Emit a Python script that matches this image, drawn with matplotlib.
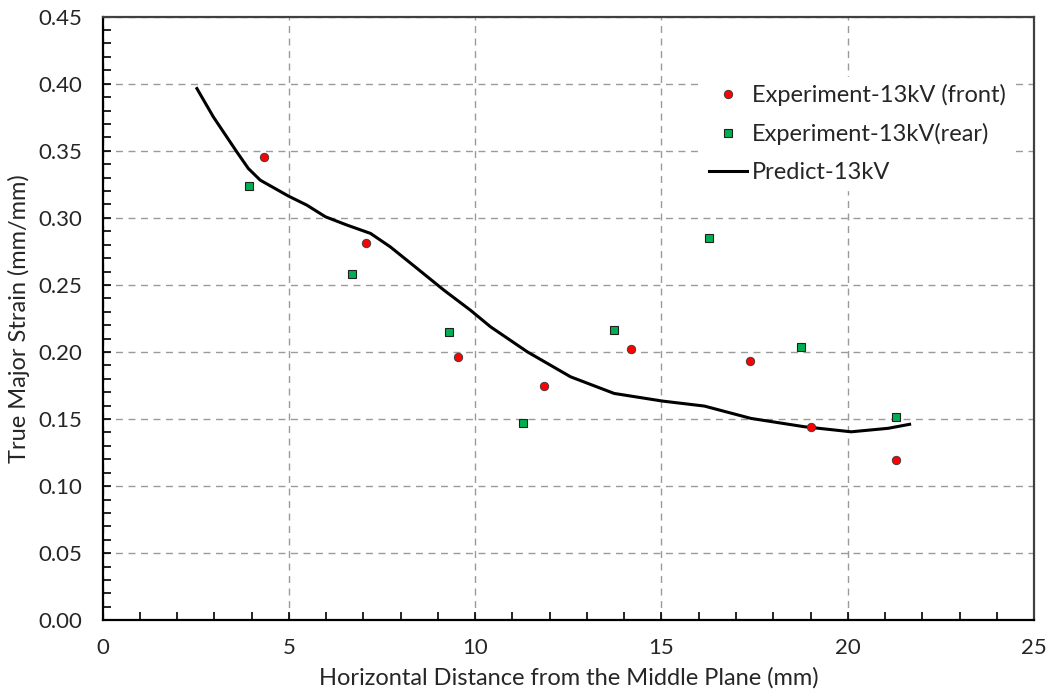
import numpy as np
import matplotlib.pyplot as plt
from matplotlib.ticker import MultipleLocator

plt.rcParams['font.family'] = ['Lato', 'DejaVu Sans']

# 实验数据 (front)
front_x = [4.34, 7.08, 9.53, 11.84, 14.19, 17.37, 19.01, 21.30]
front_y = [0.3455, 0.2814, 0.196, 0.1746, 0.2019, 0.193, 0.1443, 0.1192]

# 实验数据 (rear)
rear_x = [3.93, 6.70, 9.29, 11.29, 13.73, 16.28, 18.75, 21.30]
rear_y = [0.3234, 0.2583, 0.2148, 0.147, 0.2163, 0.285, 0.204, 0.1515]

# 预测曲线
pred_x = [2.53, 2.97, 3.60, 3.91, 4.23, 4.99, 5.48, 5.98, 6.56, 7.19, 7.72, 8.44,
          9.16, 9.87, 10.41, 11.40, 12.56, 13.73, 15.03, 16.15, 17.40, 18.83,
          20.09, 21.08, 21.66]
pred_y = [0.3964, 0.3753, 0.3492, 0.3368, 0.3281, 0.3162, 0.3095, 0.3008, 0.2946,
          0.2884, 0.2784, 0.2623, 0.2461, 0.2312, 0.2188, 0.2001, 0.1815, 0.1691,
          0.1634, 0.1597, 0.1505, 0.1443, 0.1405, 0.1431, 0.1461]

fig = plt.figure(figsize=(10.53, 7.0), dpi=100)
ax = fig.add_axes([0.0975, 0.1139, 0.8845, 0.8623])

ax.plot(pred_x, pred_y, color='black', lw=2.2, label='Predict-13kV', zorder=3,
        solid_joinstyle='round')
ax.plot(front_x, front_y, ls='none', marker='o', ms=6, mfc='#FF0000', mec='#404040',
        mew=0.7, label='Experiment-13kV (front)', zorder=4)
ax.plot(rear_x, rear_y, ls='none', marker='s', ms=6, mfc='#00B050', mec='#202020',
        mew=0.8, label='Experiment-13kV(rear)', zorder=4)

ax.set_xlim(0, 25)
ax.set_ylim(0, 0.45)
ax.xaxis.set_major_locator(MultipleLocator(5))
ax.xaxis.set_minor_locator(MultipleLocator(1))
ax.yaxis.set_major_locator(MultipleLocator(0.05))
ax.yaxis.set_minor_locator(MultipleLocator(0.01))
ax.yaxis.set_major_formatter(plt.FormatStrFormatter('%.2f'))

ax.tick_params(which='both', direction='in', top=False, right=False, colors='black',
               labelsize=16, labelcolor='#262626')
ax.tick_params(which='major', length=6, width=1.2)
ax.tick_params(which='minor', length=6, width=1.2)
ax.tick_params(axis='x', which='major', pad=13)
ax.tick_params(axis='y', which='major', pad=15)

ax.grid(which='major', ls=(0, (5, 4)), color='#9a9a9a', lw=1.0)
ax.set_axisbelow(True)
for s in ax.spines.values():
    s.set_linewidth(1.6)
    s.set_color('black')
ax.spines['right'].set_color('#404040')
ax.spines['top'].set_color('#404040')

ax.set_xlabel('Horizontal Distance from the Middle Plane (mm)', fontsize=17,
              color='#262626', labelpad=6)
ax.set_ylabel('True Major Strain (mm/mm)', fontsize=17, color='#262626', labelpad=6)

h, l = ax.get_legend_handles_labels()
order = [1, 2, 0]
leg = ax.legend([h[i] for i in order], [l[i] for i in order], loc='upper right',
                bbox_to_anchor=(0.99, 0.92), frameon=True, fancybox=False,
                edgecolor='white', facecolor='white', framealpha=1.0, fontsize=17,
                handlelength=1.6, handletextpad=0.2, labelspacing=0.72,
                borderpad=0.3)
for t in leg.get_texts():
    t.set_color('#262626')

fig.savefig('out.png', dpi=100)
